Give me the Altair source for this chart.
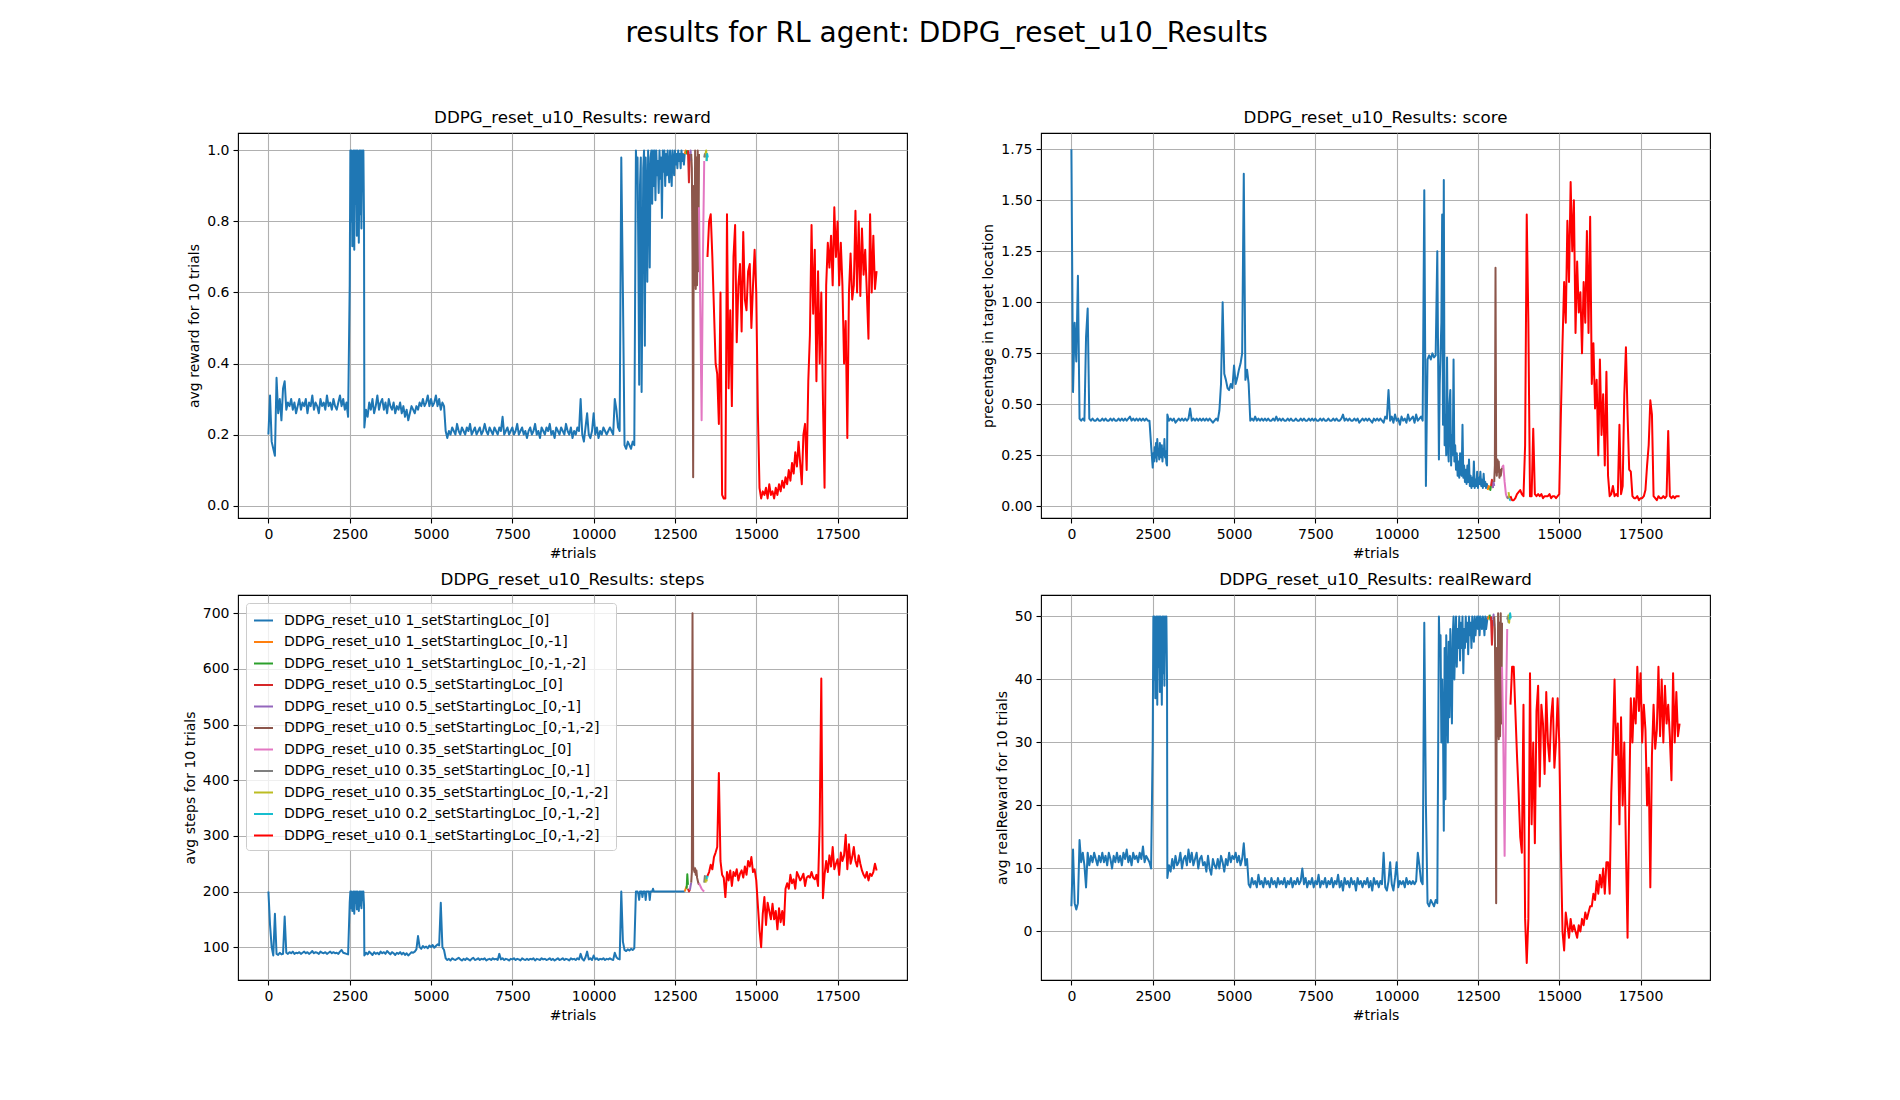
import altair as alt
import pandas as pd

agent = "DDPG_reset_u10_Results"

run_names = [
    "DDPG_reset_u10 1_setStartingLoc_[0]",
    "DDPG_reset_u10 1_setStartingLoc_[0,-1]",
    "DDPG_reset_u10 1_setStartingLoc_[0,-1,-2]",
    "DDPG_reset_u10 0.5_setStartingLoc_[0]",
    "DDPG_reset_u10 0.5_setStartingLoc_[0,-1]",
    "DDPG_reset_u10 0.5_setStartingLoc_[0,-1,-2]",
    "DDPG_reset_u10 0.35_setStartingLoc_[0]",
    "DDPG_reset_u10 0.35_setStartingLoc_[0,-1]",
    "DDPG_reset_u10 0.35_setStartingLoc_[0,-1,-2]",
    "DDPG_reset_u10 0.2_setStartingLoc_[0,-1,-2]",
    "DDPG_reset_u10 0.1_setStartingLoc_[0,-1,-2]",
]
run_colors = ["#1f77b4", "#ff7f0e", "#2ca02c", "#d62728", "#9467bd", "#8c564b",
              "#e377c2", "#7f7f7f", "#bcbd22", "#17becf", "#ff0000"]

# trial numbers of each run (first run, the short middle runs, last run)
# the first run is sampled more finely where it oscillates fast
trials_first = (list(range(0, 2500, 50)) + list(range(2500, 2950, 20))
                + list(range(2950, 11300, 50)) + list(range(11300, 12801, 25)))
trials_mid = [
    [12800, 12830, 12860],
    [12860, 12880, 12900],
    [12900, 12930, 12960],
    [12960, 12980, 13000],
    list(range(13000, 13241, 20)),
    [13240, 13280, 13320, 13360, 13400],
    [13400, 13420, 13440],
    [13440, 13460, 13480],
    [13470, 13490, 13510],
]
trials_last = list(range(13500, 18701, 50))

# %% reward
reward_first = [
    # 0 .. 2450
    0.20, 0.31, 0.18, 0.16, 0.14, 0.36, 0.26, 0.30, 0.24, 0.33,
    0.35, 0.27, 0.29, 0.28, 0.30, 0.27, 0.29, 0.26, 0.28, 0.30,
    0.27, 0.29, 0.28, 0.30, 0.26, 0.29, 0.28, 0.31, 0.27, 0.29,
    0.28, 0.26, 0.30, 0.28, 0.29, 0.27, 0.31, 0.28, 0.29, 0.27,
    0.30, 0.28, 0.27, 0.29, 0.31, 0.28, 0.30, 0.27, 0.29, 0.25,
    # 2500 .. 2940
    0.62, 1.00, 0.80, 1.00, 0.73, 0.95, 1.00, 0.72, 1.00, 0.85, 1.00, 0.76,
    1.00, 0.90, 0.74, 1.00, 0.82, 1.00, 0.78, 1.00, 0.92, 1.00, 0.80,
    # 2950 .. 11250
    0.22,
    0.27, 0.25, 0.29, 0.27, 0.30, 0.26, 0.28, 0.31, 0.27, 0.29,
    0.30, 0.27, 0.29, 0.26, 0.30, 0.28, 0.27, 0.29, 0.26, 0.28,
    0.27, 0.29, 0.26, 0.28, 0.25, 0.27, 0.24, 0.26, 0.28, 0.27,
    0.26, 0.28, 0.27, 0.29, 0.28, 0.30, 0.28, 0.29, 0.31, 0.28,
    0.30, 0.28, 0.29, 0.31, 0.28, 0.30, 0.27, 0.29, 0.28, 0.21,
    0.19, 0.21, 0.20, 0.22, 0.21, 0.20, 0.23, 0.21, 0.20, 0.22,
    0.21, 0.20, 0.22, 0.21, 0.23, 0.20, 0.21, 0.22, 0.20, 0.21,
    0.22, 0.20, 0.21, 0.23, 0.21, 0.20, 0.22, 0.21, 0.20, 0.22,
    0.21, 0.20, 0.22, 0.21, 0.25, 0.20, 0.21, 0.22, 0.20, 0.21,
    0.22, 0.20, 0.21, 0.23, 0.20, 0.21, 0.22, 0.20, 0.21, 0.19,
    0.21, 0.22, 0.20, 0.21, 0.23, 0.20, 0.21, 0.19, 0.22, 0.21,
    0.20, 0.22, 0.21, 0.23, 0.20, 0.21, 0.19, 0.22, 0.21, 0.20,
    0.22, 0.21, 0.20, 0.23, 0.21, 0.20, 0.22, 0.19, 0.21, 0.20,
    0.22, 0.21, 0.30, 0.20, 0.18, 0.22, 0.26, 0.20, 0.19, 0.21,
    0.26, 0.20, 0.22, 0.19, 0.21, 0.20, 0.22, 0.21, 0.20, 0.21,
    0.22, 0.21, 0.20, 0.30, 0.27, 0.22, 0.21, 0.98, 0.60, 0.17,
    0.16, 0.18, 0.17, 0.16, 0.18, 0.17,
    # 11300 .. 12800
    1.00, 0.93, 0.98, 0.70, 0.34, 0.90, 0.98, 0.32, 0.60, 0.95, 1.00, 0.45,
    0.98, 0.88, 0.63, 1.00, 0.92, 0.67, 0.98, 1.00, 0.85, 1.00, 0.90, 1.00,
    0.86, 1.00, 0.93, 0.97, 0.88, 1.00, 0.92, 0.98, 0.81, 1.00, 0.94, 1.00,
    0.90, 0.99, 0.93, 1.00, 0.95, 0.91, 1.00, 0.96, 0.90, 1.00, 0.97, 0.93,
    1.00, 0.96, 0.99, 0.95, 1.00, 0.97, 0.99, 0.95, 1.00, 0.97, 0.99, 0.96,
    0.99,
]
reward_mid = [
    [0.99, 1.00, 0.99],
    [1.00, 0.99, 1.00],
    [1.00, 0.91, 0.99],
    [0.99, 1.00, 0.97],
    [0.99, 0.95, 0.70, 0.08, 0.90, 0.62, 1.00, 0.61, 0.98, 0.62, 1.00, 0.66, 0.99],
    [0.84, 0.55, 0.24, 0.70, 0.97],
    [0.98, 0.99, 0.98],
    [0.99, 1.00, 0.97],
    [0.97, 0.99, 0.98],
]
reward_last = [
    0.70, 0.80, 0.82, 0.70, 0.55, 0.40, 0.37, 0.23, 0.60, 0.03,
    0.02, 0.02, 0.82, 0.33, 0.55, 0.28, 0.70, 0.79, 0.46, 0.62,
    0.68, 0.49, 0.77, 0.58, 0.55, 0.66, 0.68, 0.50, 0.62, 0.72,
    0.60, 0.26, 0.05, 0.02, 0.04, 0.03, 0.05, 0.02, 0.06, 0.03,
    0.04, 0.02, 0.05, 0.03, 0.06, 0.04, 0.07, 0.05, 0.08, 0.06,
    0.10, 0.07, 0.12, 0.09, 0.15, 0.11, 0.18, 0.12, 0.06, 0.20,
    0.23, 0.10, 0.35, 0.48, 0.79, 0.54, 0.72, 0.35, 0.66, 0.40,
    0.60, 0.30, 0.05, 0.62, 0.74, 0.67, 0.76, 0.62, 0.84, 0.70,
    0.80, 0.62, 0.74, 0.62, 0.40, 0.52, 0.19, 0.60, 0.71, 0.58,
    0.62, 0.83, 0.60, 0.80, 0.59, 0.78, 0.65, 0.72, 0.60, 0.47,
    0.82, 0.60, 0.76, 0.61, 0.66,
]

# %% score
score_first = [
    # 0 .. 2450
    1.75, 0.56, 0.90, 0.71, 1.13, 0.43, 0.42, 0.43, 0.42, 0.83,
    0.97, 0.43, 0.42, 0.43, 0.42, 0.42, 0.43, 0.42, 0.42, 0.43,
    0.42, 0.43, 0.42, 0.42, 0.43, 0.42, 0.43, 0.42, 0.42, 0.43,
    0.42, 0.43, 0.42, 0.43, 0.42, 0.43, 0.44, 0.42, 0.43, 0.42,
    0.43, 0.42, 0.43, 0.42, 0.43, 0.42, 0.43, 0.42, 0.42, 0.30,
    # 2500 .. 2940
    0.19, 0.26, 0.22, 0.29, 0.24, 0.31, 0.22, 0.33, 0.25, 0.28, 0.23, 0.31,
    0.26, 0.24, 0.30, 0.22, 0.28, 0.25, 0.33, 0.24, 0.27, 0.21, 0.20,
    # 2950 .. 11250
    0.45,
    0.42, 0.43, 0.42, 0.43, 0.41, 0.42, 0.43, 0.42, 0.43, 0.42,
    0.43, 0.42, 0.43, 0.48, 0.42, 0.43, 0.42, 0.43, 0.42, 0.43,
    0.42, 0.43, 0.42, 0.43, 0.42, 0.43, 0.42, 0.41, 0.42, 0.43,
    0.42, 0.47, 0.60, 1.00, 0.65, 0.62, 0.58, 0.57, 0.60, 0.58,
    0.69, 0.60, 0.63, 0.67, 0.70, 0.75, 1.63, 0.62, 0.67, 0.60,
    0.42, 0.43, 0.42, 0.44, 0.42, 0.43, 0.42, 0.43, 0.42, 0.43,
    0.42, 0.43, 0.42, 0.42, 0.43, 0.42, 0.44, 0.42, 0.43, 0.42,
    0.43, 0.42, 0.42, 0.43, 0.42, 0.43, 0.42, 0.42, 0.43, 0.42,
    0.42, 0.43, 0.42, 0.43, 0.42, 0.42, 0.43, 0.42, 0.43, 0.42,
    0.43, 0.42, 0.42, 0.43, 0.42, 0.43, 0.42, 0.42, 0.43, 0.42,
    0.42, 0.43, 0.42, 0.43, 0.42, 0.42, 0.43, 0.45, 0.42, 0.43,
    0.42, 0.43, 0.42, 0.42, 0.43, 0.42, 0.43, 0.41, 0.42, 0.43,
    0.42, 0.43, 0.42, 0.43, 0.42, 0.41, 0.43, 0.42, 0.43, 0.42,
    0.43, 0.42, 0.41, 0.44, 0.43, 0.57, 0.42, 0.44, 0.41, 0.45,
    0.42, 0.43, 0.40, 0.44, 0.42, 0.43, 0.41, 0.45, 0.42, 0.43,
    0.44, 0.41, 0.45, 0.42, 0.43, 0.44, 0.42, 1.55, 0.10, 0.72,
    0.74, 0.72, 0.75, 0.73, 0.74, 1.25,
    # 11300 .. 12800
    0.23, 0.60, 0.75, 0.90, 1.43, 0.40, 1.60, 0.30, 0.45, 0.25, 0.73, 0.30,
    0.22, 0.50, 0.57, 0.20, 0.35, 0.25, 0.72, 0.22, 0.30, 0.18, 0.26, 0.15,
    0.22, 0.14, 0.26, 0.16, 0.15, 0.40, 0.14, 0.20, 0.12, 0.18, 0.11, 0.20,
    0.12, 0.23, 0.10, 0.15, 0.09, 0.14, 0.10, 0.22, 0.09, 0.13, 0.10, 0.17,
    0.09, 0.14, 0.11, 0.17, 0.10, 0.13, 0.09, 0.16, 0.10, 0.12, 0.09, 0.11,
    0.09,
]
score_mid = [
    [0.08, 0.10, 0.09],
    [0.09, 0.08, 0.10],
    [0.10, 0.13, 0.09],
    [0.09, 0.12, 0.10],
    [0.12, 0.20, 1.17, 0.20, 0.15, 0.23, 0.17, 0.22, 0.14, 0.18, 0.15, 0.17, 0.19],
    [0.19, 0.20, 0.12, 0.06, 0.04],
    [0.05, 0.04, 0.05],
    [0.07, 0.05, 0.04],
    [0.04, 0.03, 0.03],
]
score_last = [
    0.05, 0.03, 0.03, 0.04, 0.06, 0.07, 0.08, 0.06, 0.05, 0.30,
    1.43, 0.90, 0.05, 0.05, 0.38, 0.06, 0.05, 0.06, 0.05, 0.06,
    0.04, 0.05, 0.05, 0.05, 0.06, 0.04, 0.05, 0.05, 0.04, 0.05,
    0.06, 0.45, 0.80, 1.10, 0.90, 1.40, 1.10, 1.59, 1.25, 1.50,
    0.85, 1.20, 0.95, 1.05, 0.75, 1.10, 0.90, 1.35, 0.85, 1.42,
    0.60, 0.80, 0.48, 0.62, 0.25, 0.72, 0.35, 0.55, 0.20, 0.66,
    0.15, 0.05, 0.06, 0.10, 0.05, 0.06, 0.05, 0.40, 0.06, 0.10,
    0.55, 0.78, 0.45, 0.18, 0.17, 0.05, 0.04, 0.04, 0.05, 0.03,
    0.04, 0.04, 0.05, 0.08, 0.20, 0.30, 0.52, 0.45, 0.05, 0.04,
    0.03, 0.05, 0.04, 0.04, 0.05, 0.04, 0.05, 0.37, 0.05, 0.04,
    0.05, 0.04, 0.05, 0.05, 0.05,
]

# %% steps
steps_first = [
    # 0 .. 2450
    200, 140, 100, 85, 160, 88, 86, 90, 87, 88,
    155, 90, 88, 91, 89, 92, 88, 90, 89, 91,
    88, 90, 92, 89, 91, 88, 90, 93, 89, 91,
    90, 88, 92, 90, 89, 91, 88, 90, 92, 89,
    91, 89, 90, 88, 92, 95, 90, 89, 88, 87,
    # 2500 .. 2940
    180, 200, 170, 200, 165, 195, 200, 160, 200, 180, 200, 168,
    200, 190, 165, 200, 175, 200, 170, 200, 185, 200, 175,
    # 2950 .. 11250
    85,
    90, 87, 92, 89, 86, 91, 88, 90, 87, 92,
    89, 91, 88, 93, 90, 87, 91, 89, 86, 90,
    88, 91, 87, 90, 86, 89, 85, 88, 91, 90,
    92, 96, 120, 100, 97, 102, 99, 101, 98, 103,
    100, 104, 99, 102, 105, 103, 180, 100, 95, 80,
    77, 79, 76, 80, 78, 77, 79, 81, 78, 76,
    79, 77, 80, 78, 76, 79, 81, 77, 78, 80,
    77, 79, 78, 80, 76, 78, 79, 77, 80, 78,
    79, 77, 88, 78, 80, 77, 79, 78, 76, 79,
    78, 80, 77, 79, 78, 76, 80, 78, 77, 79,
    77, 79, 78, 80, 76, 79, 78, 77, 80, 78,
    79, 77, 78, 80, 77, 79, 76, 78, 80, 77,
    78, 80, 77, 79, 78, 76, 80, 78, 79, 77,
    80, 78, 88, 79, 76, 82, 92, 78, 80, 77,
    85, 78, 80, 77, 79, 78, 80, 77, 79, 78,
    80, 78, 77, 90, 82, 79, 78, 200, 110, 95,
    93, 96, 94, 97, 95, 98,
    # 11300 .. 12800
    200, 200, 200, 195, 185, 200, 200, 200, 190, 200, 200, 200,
    185, 200, 200, 200, 200, 185, 200, 200, 200, 205, 200, 200,
    200, 200, 200, 200, 200, 200, 200, 200, 200, 200, 200, 200,
    200, 200, 200, 200, 200, 200, 200, 200, 200, 200, 200, 200,
    200, 200, 200, 200, 200, 200, 200, 200, 200, 200, 200, 200,
    200,
]
steps_mid = [
    [200, 205, 210],
    [205, 231, 212],
    [205, 200, 203],
    [203, 210, 216],
    [216, 235, 700, 246, 240, 235, 242, 230, 238, 225, 220, 215, 212],
    [215, 210, 205, 202, 200],
    [216, 228, 220],
    [216, 225, 218],
    [222, 228, 225],
]
steps_last = [
    228, 235, 248, 240, 262, 270, 280, 413, 255, 230,
    225, 190, 235, 220, 238, 210, 235, 228, 240, 220,
    232, 238, 225, 245, 230, 255, 245, 262, 235, 240,
    220, 175, 130, 100, 160, 190, 140, 180, 165, 150,
    178, 150, 165, 132, 170, 145, 165, 140, 205, 215,
    205, 230, 215, 222, 205, 235, 228, 220, 225, 232,
    210, 225, 228, 225, 235, 225, 222, 230, 210, 320,
    583, 188, 230, 255, 235, 265, 245, 280, 240, 250,
    258, 230, 270, 255, 265, 302, 240, 285, 250, 262,
    280, 255, 245, 265, 250, 238, 230, 225, 235, 220,
    232, 228, 235, 250, 238,
]

# %% realReward
real_first = [
    # 0 .. 2450
    4.0, 13.0, 4.5, 3.5, 4.5, 14.5, 11.0, 12.5, 10.5, 7.0,
    12.5, 10.5, 12.0, 11.0, 12.5, 11.5, 10.5, 12.0, 11.0, 12.5,
    11.0, 12.0, 10.5, 12.5, 11.5, 10.0, 12.0, 11.0, 12.5, 11.0,
    12.0, 10.5, 12.5, 11.5, 13.0, 11.0, 12.0, 10.5, 12.5, 11.5,
    12.0, 11.0, 12.5, 11.5, 13.5, 11.0, 12.0, 11.5, 11.0, 10.0,
    # 2500 .. 2940
    30, 50, 40, 50, 37, 47, 50, 36, 50, 42, 50, 38,
    50, 45, 36, 50, 41, 50, 39, 50, 46, 50, 40,
    # 2950 .. 11250
    8.5,
    10.5, 9.5, 11.5, 10.0, 12.0, 10.5, 11.0, 12.5, 10.0, 11.5,
    12.0, 10.5, 13.0, 11.0, 12.5, 10.5, 11.5, 12.5, 10.0, 11.5,
    12.0, 10.5, 11.0, 9.5, 12.0, 10.0, 9.0, 11.5, 10.5, 10.0,
    11.5, 10.0, 12.0, 11.0, 9.5, 11.5, 10.5, 12.5, 11.0, 12.0,
    11.5, 12.5, 11.0, 12.0, 10.5, 11.5, 14.0, 10.5, 11.5, 7.5,
    7.0, 8.5, 7.5, 8.0, 7.0, 9.0, 7.5, 8.0, 7.0, 8.5,
    7.5, 8.0, 7.0, 8.5, 7.5, 8.0, 7.0, 8.5, 7.5, 8.0,
    7.5, 8.5, 7.0, 8.0, 7.5, 8.5, 7.0, 8.0, 7.5, 8.5,
    7.5, 8.0, 10.0, 7.5, 8.5, 7.0, 8.0, 7.5, 8.5, 7.0,
    8.0, 7.5, 9.0, 7.0, 8.0, 7.5, 8.5, 7.0, 8.0, 7.5,
    8.5, 7.0, 8.0, 7.5, 9.0, 7.0, 8.0, 6.5, 8.5, 7.5,
    8.0, 7.0, 8.5, 7.5, 8.0, 6.5, 8.5, 7.5, 8.0, 7.0,
    8.0, 7.5, 8.5, 7.0, 8.0, 6.5, 8.5, 7.5, 8.0, 7.0,
    8.0, 7.5, 12.5, 7.0, 6.5, 8.0, 11.0, 7.5, 6.5, 8.5,
    11.0, 7.0, 8.0, 7.5, 8.0, 7.0, 8.5, 7.5, 8.0, 7.5,
    8.0, 7.5, 8.0, 12.5, 10.5, 8.0, 7.5, 49.0, 20.0, 4.5,
    4.0, 5.0, 4.5, 4.0, 5.0, 4.5,
    # 11300 .. 12800
    50, 44, 47, 30, 40, 33, 16, 45, 21, 47, 38, 30,
    46, 34, 48, 40, 33, 47, 50, 40, 46, 50, 42, 48,
    45, 50, 43, 49, 45, 50, 41, 48, 45, 50, 46, 49,
    44, 50, 47, 49, 45, 50, 48, 46, 50, 47, 49, 50,
    48, 50, 47, 50, 49, 48, 50, 49, 47, 50, 48, 49,
    50,
]
real_mid = [
    [49.5, 50.0, 49.8],
    [50.3, 49.5, 50.0],
    [50.0, 45.5, 49.5],
    [49.5, 50.3, 48.5],
    [50.0, 48.0, 35.0, 4.5, 45.0, 31.0, 50.5, 30.5, 49.0, 31.0, 50.5, 33.0, 49.0],
    [42.0, 30.0, 12.0, 35.0, 48.0],
    [49.5, 50.0, 49.0],
    [50.3, 49.0, 50.5],
    [49.5, 50.5, 49.7],
]
real_last = [
    36, 42, 42, 35, 28, 22, 15, 12.5, 36, 2,
    -5, 2, 41, 17, 30, 14, 35, 39, 23, 36,
    33, 25, 38, 30, 27, 34, 37, 26, 30, 37,
    30, 13, 0, -3, 3, 1, -1, 2, 0, 1,
    0, -1, 1, 0, 2, 1, 3, 2, 3, 4,
    4, 6, 5, 8, 6, 9, 7, 10, 6, 11,
    11, 6, 22, 30, 40, 28, 33, 17, 34, 20,
    30, 13, -1, 20, 37, 30, 37, 33, 42, 35,
    41, 30, 36, 32, 20, 26, 7, 28, 36, 29,
    32, 42, 31, 40, 30, 39, 33, 36, 31, 24,
    41, 30, 38, 31, 33,
]

x_ticks = [0, 2500, 5000, 7500, 10000, 12500, 15000, 17500]


def to_long(first, mid, last):
    xs = [trials_first] + trials_mid + [trials_last]
    ys = [first] + mid + [last]
    rows = []
    for name, tx, vy in zip(run_names, xs, ys):
        assert len(tx) == len(vy), (name, len(tx), len(vy))
        rows += [{"run": name, "trial": t, "value": v} for t, v in zip(tx, vy)]
    return pd.DataFrame(rows)


def panel(df, name, ytitle, ydomain, yticks, yfmt, legend=None):
    return (
        alt.Chart(df, title=f"{agent}: {name}")
        .mark_line(strokeWidth=2, clip=True, strokeJoin="round")
        .encode(
            x=alt.X("trial:Q", title="#trials",
                    scale=alt.Scale(domain=[-935, 19635], nice=False, zero=False),
                    axis=alt.Axis(values=x_ticks, format="d")),
            y=alt.Y("value:Q", title=ytitle,
                    scale=alt.Scale(domain=ydomain, nice=False, zero=False),
                    axis=alt.Axis(values=yticks, format=yfmt)),
            color=alt.Color("run:N", scale=alt.Scale(domain=run_names, range=run_colors),
                            legend=legend),
        )
        .properties(width=669, height=385)
    )


steps_legend = alt.Legend(
    title=None, orient="top-left", offset=8,
    symbolType="stroke", symbolSize=361, symbolStrokeWidth=2,
    labelFontSize=14, labelLimit=0, labelOffset=10, rowPadding=3.5,
    fillColor="rgba(255,255,255,0.8)", strokeColor="#cccccc",
    padding=7, cornerRadius=3,
)

reward_chart = panel(to_long(reward_first, reward_mid, reward_last), "reward",
                     "avg reward for 10 trials", [-0.035, 1.049],
                     [0, 0.2, 0.4, 0.6, 0.8, 1.0], ".1f")
score_chart = panel(to_long(score_first, score_mid, score_last), "score",
                    "precentage in target location", [-0.057, 1.83],
                    [0, 0.25, 0.5, 0.75, 1.0, 1.25, 1.5, 1.75], ".2f")
steps_chart = panel(to_long(steps_first, steps_mid, steps_last), "steps",
                    "avg steps for 10 trials", [41, 733],
                    [100, 200, 300, 400, 500, 600, 700], "d", legend=steps_legend)
real_chart = panel(to_long(real_first, real_mid, real_last), "realReward",
                   "avg realReward for 10 trials", [-7.7, 53.4],
                   [0, 10, 20, 30, 40, 50], "d")

chart = (
    alt.concat(reward_chart, score_chart, steps_chart, real_chart, columns=2,
               spacing={"row": 77, "column": 134}, bounds="flush")
    .resolve_legend(color="independent")
    .properties(
        title=alt.Title(f"results for RL agent: {agent}", fontSize=28,
                        fontWeight="normal", anchor="middle", offset=62),
        padding={"left": 174, "top": 11, "right": 20, "bottom": 20},
    )
    .configure(font="DejaVu Sans")
    .configure_axis(labelFontSize=14, titleFontSize=14, titleFontWeight="normal",
                    labelColor="black", titleColor="black", tickColor="black",
                    tickSize=5, tickWidth=1.1, gridColor="#b0b0b0", gridWidth=1.1,
                    domain=False, labelPadding=4, titlePadding=5)
    .configure_view(stroke="black", strokeWidth=1.1)
    .configure_title(fontSize=16.7, fontWeight="normal", color="black", offset=6)
)

chart.save("out.html", embed_options={"renderer": "svg", "actions": False})
